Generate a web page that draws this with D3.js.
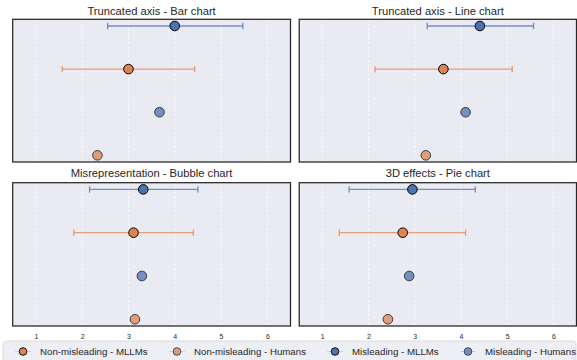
<!DOCTYPE html>
<html><head><meta charset="utf-8">
<script src="https://cdn.jsdelivr.net/npm/d3@7"></script>
<style>body{margin:0;background:#fff;}svg{display:block;font-family:"Liberation Sans",Arial,sans-serif;}</style>
</head><body>
<svg id="c" width="577" height="360"></svg>
<script>
const panels = ["Truncated axis - Bar chart","Truncated axis - Line chart","Misrepresentation - Bubble chart","3D effects - Pie chart"];
const groups = ["Misleading - MLLMs","Non-misleading - MLLMs","Misleading - Humans","Non-misleading - Humans"];
// mean values per panel, in group order
const meanMisMLLM    = [4.00, 4.41, 3.32, 2.95];
const meanNonMLLM    = [3.00, 3.62, 3.11, 2.74];
const meanMisHuman   = [3.67, 4.10, 3.29, 2.88];
const meanNonHuman   = [2.33, 3.24, 3.14, 2.42];
// error bar low / high for MLLM series
const errMisLow  = [2.55, 3.27, 2.16, 1.58];
const errMisHigh = [5.47, 5.57, 4.50, 4.31];
const errNonLow  = [1.57, 2.14, 1.82, 1.37];
const errNonHigh = [4.43, 5.11, 4.40, 4.10];
const xTicks = [1,2,3,4,5,6];
const legendOrder = ["Non-misleading - MLLMs","Non-misleading - Humans","Misleading - MLLMs","Misleading - Humans"];

const colors = {
  "Misleading - MLLMs": "#4C72B0",
  "Non-misleading - MLLMs": "#DD8452",
  "Misleading - Humans": "#4C72B0",
  "Non-misleading - Humans": "#DD8452"
};
const isHuman = g => g.indexOf("Humans") >= 0;

const svg = d3.select("#c");
const cols = [[12.7, 290.5],[299.2, 576.5]];
const rows = [[19.3, 162],[182.7, 326]];
const titleY = [15, 177];

panels.forEach((title, p) => {
  const [x0,x1] = cols[p%2];
  const [y0,y1] = rows[Math.floor(p/2)];
  const x = d3.scaleLinear().domain([0.5,6.5]).range([x0,x1]);
  const y = d3.scalePoint().domain(groups).range([y0,y1]).padding(0.155/ (1) );
  // scalePoint padding is in step units: outer padding
  const yy = d3.scaleLinear().domain([-0.155, 3.155]).range([y0,y1]);
  const yPos = g => yy(groups.indexOf(g));
  const gP = svg.append("g");
  gP.append("rect").attr("x",x0).attr("y",y0).attr("width",x1-x0).attr("height",y1-y0).attr("fill","#EAEAF2");
  // grid
  gP.selectAll("line.grid").data(xTicks).join("line")
    .attr("x1",d=>x(d)).attr("x2",d=>x(d)).attr("y1",y0).attr("y2",y1)
    .attr("stroke","#fff").attr("stroke-width",0.8).attr("stroke-dasharray","2.5,2");
  // title
  gP.append("text").attr("x",(x0+x1)/2).attr("y",titleY[Math.floor(p/2)]).attr("text-anchor","middle")
    .attr("font-size",11.2).attr("fill","#262626").text(title);
  // error bars
  const errs = [
    {g:"Misleading - MLLMs", lo: errMisLow[p], hi: errMisHigh[p]},
    {g:"Non-misleading - MLLMs", lo: errNonLow[p], hi: errNonHigh[p]}
  ];
  errs.forEach(e => {
    const c = colors[e.g], yv = yPos(e.g);
    const eg = gP.append("g").attr("stroke",c).attr("stroke-opacity",0.75).attr("stroke-width",1.3);
    eg.append("line").attr("x1",x(e.lo)).attr("x2",x(e.hi)).attr("y1",yv).attr("y2",yv);
    [e.lo,e.hi].forEach(v => eg.append("line").attr("x1",x(v)).attr("x2",x(v)).attr("y1",yv-3.2).attr("y2",yv+3.2));
  });
  const pts = [
    {g:"Misleading - MLLMs", v: meanMisMLLM[p]},
    {g:"Non-misleading - MLLMs", v: meanNonMLLM[p]},
    {g:"Misleading - Humans", v: meanMisHuman[p]},
    {g:"Non-misleading - Humans", v: meanNonHuman[p]}
  ];
  gP.selectAll("circle.pt").data(pts).join("circle")
    .attr("cx",d=>x(d.v)).attr("cy",d=>yPos(d.g)).attr("r",4.8)
    .attr("fill",d=>colors[d.g]).attr("stroke","#000").attr("stroke-width",1)
    .attr("opacity",d=>isHuman(d.g)?0.75:1);
  // frame
  gP.append("rect").attr("x",x0).attr("y",y0).attr("width",x1-x0).attr("height",y1-y0)
    .attr("fill","none").attr("stroke","#262626").attr("stroke-width",1.25);
  // axis for bottom row
  if (p >= 2) {
    const ax = gP.append("g").attr("transform",`translate(0,${y1})`)
      .call(d3.axisBottom(x).tickValues(xTicks).tickSize(0).tickPadding(8).tickFormat(d3.format("d")));
    ax.select(".domain").remove();
    ax.selectAll("text").attr("font-size",7).attr("fill","#262626").attr("font-family","Liberation Sans, Arial, sans-serif");
  }
});

// legend
const lg = svg.append("g");
lg.append("rect").attr("x",3).attr("y",341).attr("width",573).attr("height",30).attr("rx",3)
  .attr("fill","#EAEAF2").attr("fill-opacity",0.8).attr("stroke","#d6d6d6").attr("stroke-width",0.8);
const lx = [23,177,335,468];
legendOrder.forEach((g,i) => {
  const cy = 351.5;
  lg.append("line").attr("x1",lx[i]-8).attr("x2",lx[i]+8).attr("y1",cy).attr("y2",cy)
    .attr("stroke","#d2d2da").attr("stroke-width",1);
  lg.append("circle").attr("cx",lx[i]).attr("cy",cy).attr("r",3.8)
    .attr("fill",colors[g]).attr("stroke","#000").attr("stroke-width",0.9)
    .attr("opacity",isHuman(g)?0.75:1);
  lg.append("text").attr("x",lx[i]+17).attr("y",cy+3.4).attr("font-size",9.7).attr("fill","#262626").text(g);
});
</script>
</body></html>
